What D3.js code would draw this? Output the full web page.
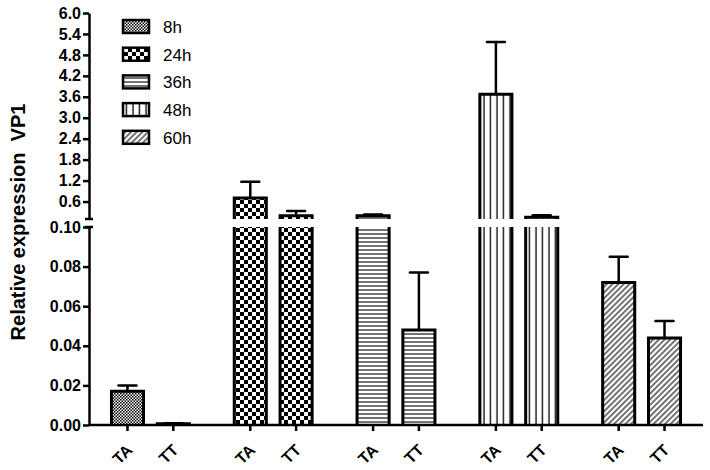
<!DOCTYPE html>
<html>
<head>
<meta charset="utf-8">
<script src="https://cdn.jsdelivr.net/npm/d3@7"></script>
<style>
  body { margin: 0; background: #fff; }
  text { font-family: Arial, "Liberation Sans", sans-serif; }
</style>
</head>
<body>
<svg id="chart" width="710" height="470"></svg>
<script>
// data
var groups = ['8h', '24h', '36h', '48h', '60h'];
var genotypes = ['TA', 'TT'];
var meanTA = [0.017, 0.70, 0.19, 3.67, 0.072];
var meanTT = [0.0006, 0.19, 0.048, 0.15, 0.044];
var errTA = [0.003, 0.47, 0.04, 1.50, 0.013];
var errTT = [0.0003, 0.14, 0.029, 0.06, 0.0085];
var lowTicks = [0, 0.02, 0.04, 0.06, 0.08, 0.10];
var highTicks = [0.6, 1.2, 1.8, 2.4, 3.0, 3.6, 4.2, 4.8, 5.4, 6.0];
var breakAt = 0.1;

var svg = d3.select('#chart');
var axisX = 89;

var x0 = d3.scaleBand().domain(groups).range([axisX, 703]).padding(0);
var x1 = d3.scaleBand().domain(genotypes).range([0, x0.bandwidth()])
    .paddingInner(0.3).paddingOuter(0.49);
var yLow = d3.scaleLinear().domain([0, breakAt]).range([425, 227]);
var yHigh = d3.scaleLinear().domain([breakAt, 6.0]).range([219, 13]);

// patterns
var defs = svg.append('defs');
function pat(id, w, h) {
    var p = defs.append('pattern').attr('id', id).attr('patternUnits', 'userSpaceOnUse')
        .attr('width', w).attr('height', h);
    p.append('rect').attr('width', w).attr('height', h).attr('fill', '#fff');
    return p;
}
var p = pat('p8h', 3, 3);
p.append('rect').attr('width', 1.5).attr('height', 1.5).attr('fill', '#000');
p.append('rect').attr('x', 1.5).attr('y', 1.5).attr('width', 1.5).attr('height', 1.5).attr('fill', '#000');
p = pat('p24h', 8, 8);
p.append('rect').attr('width', 4).attr('height', 4).attr('fill', '#000');
p.append('rect').attr('x', 4).attr('y', 4).attr('width', 4).attr('height', 4).attr('fill', '#000');
p = pat('p36h', 4, 4);
p.append('line').attr('x1', 0).attr('x2', 4).attr('y1', 2).attr('y2', 2).attr('stroke', '#000').attr('stroke-width', 1.1);
p = pat('p48h', 6.5, 4);
p.append('line').attr('x1', 3).attr('x2', 3).attr('y1', 0).attr('y2', 4).attr('stroke', '#000').attr('stroke-width', 1.3);
p = pat('p60h', 4, 4).attr('patternTransform', 'rotate(45)');
p.append('line').attr('x1', 2).attr('x2', 2).attr('y1', 0).attr('y2', 4).attr('stroke', '#000').attr('stroke-width', 1.1);

var data = [];
groups.forEach(function(g, i) {
    data.push({group: g, gt: 'TA', v: meanTA[i], e: errTA[i]});
    data.push({group: g, gt: 'TT', v: meanTT[i], e: errTT[i]});
});

function ypos(v) { return v > breakAt ? yHigh(v) : yLow(v); }

var bars = svg.append('g');
data.forEach(function(d) {
    var x = x0(d.group) + x1(d.gt);
    var w = x1.bandwidth();
    var cx = x + w / 2;
    var fill = 'url(#p' + d.group + ')';
    var g = bars.append('g');
    // error bar (upwards only)
    var top = ypos(d.v + d.e);
    g.append('line').attr('x1', cx).attr('x2', cx).attr('y1', ypos(d.v)).attr('y2', top)
        .attr('stroke', '#000').attr('stroke-width', 2.5);
    g.append('line').attr('x1', cx - 9).attr('x2', cx + 9).attr('y1', top).attr('y2', top)
        .attr('stroke', '#000').attr('stroke-width', 2.5).attr('stroke-linecap', 'round');
    var pieces = [];
    if (d.v > breakAt) {
        pieces.push({y0: yLow(0), y1: yLow(breakAt), cap: false});
        pieces.push({y0: yHigh(breakAt), y1: yHigh(d.v), cap: true});
    } else {
        pieces.push({y0: yLow(0), y1: yLow(d.v), cap: true});
    }
    pieces.forEach(function(pc) {
        g.append('rect').attr('x', x).attr('y', pc.y1).attr('width', w)
            .attr('height', Math.max(0, pc.y0 - pc.y1)).attr('fill', fill);
        var path = d3.path();
        path.moveTo(x, pc.y0);
        path.lineTo(x, pc.y1);
        if (pc.cap) { path.lineTo(x + w, pc.y1); } else { path.moveTo(x + w, pc.y1); }
        path.lineTo(x + w, pc.y0);
        g.append('path').attr('d', path.toString()).attr('fill', 'none')
            .attr('stroke', '#000').attr('stroke-width', 3);
    });
});

// axes
function styleAxis(sel) {
    sel.selectAll('.domain').attr('stroke-width', 2.5);
    sel.selectAll('.tick line').attr('stroke-width', 2.5);
    sel.selectAll('.tick text').attr('font-size', 16).attr('font-weight', 'bold')
        .attr('font-family', 'Arial, "Liberation Sans", sans-serif').attr('fill', '#000');
}
var gLow = svg.append('g').attr('transform', 'translate(' + axisX + ',0)')
    .call(d3.axisLeft(yLow).tickValues(lowTicks).tickFormat(d3.format('.2f')).tickSize(6).tickSizeOuter(0).tickPadding(2));
styleAxis(gLow);
var gHigh = svg.append('g').attr('transform', 'translate(' + axisX + ',0)')
    .call(d3.axisLeft(yHigh).tickValues(highTicks).tickFormat(d3.format('.1f')).tickSize(6).tickSizeOuter(0).tickPadding(2));
styleAxis(gHigh);

// break caps
[yHigh(breakAt), yLow(breakAt)].forEach(function(y) {
    svg.append('line').attr('x1', axisX - 4).attr('x2', axisX + 4).attr('y1', y).attr('y2', y)
        .attr('stroke', '#000').attr('stroke-width', 2.5);
});

var gx = svg.append('g').attr('transform', 'translate(0,' + yLow(0) + ')');
gx.append('line').attr('x1', axisX).attr('x2', x0.range()[1]).attr('stroke', '#000').attr('stroke-width', 2.5);
data.forEach(function(d) {
    var cx = x0(d.group) + x1(d.gt) + x1.bandwidth() / 2;
    gx.append('line').attr('x1', cx).attr('x2', cx).attr('y1', 0).attr('y2', 6)
        .attr('stroke', '#000').attr('stroke-width', 2.5);
    gx.append('text').attr('transform', 'translate(' + (cx + 6) + ',26) rotate(-45)')
        .attr('text-anchor', 'end').attr('font-size', 16).attr('font-weight', 'bold')
        .text(d.gt);
});

// y title
svg.append('text').attr('transform', 'translate(25,222) rotate(-90)')
    .attr('text-anchor', 'middle').attr('font-size', 20).attr('font-weight', 'bold')
    .attr('xml:space', 'preserve').style('white-space', 'pre')
    .text('Relative expression  VP1');

// legend
var leg = svg.append('g');
groups.forEach(function(g, i) {
    var y = 20 + i * 27.7;
    leg.append('rect').attr('x', 123).attr('y', y).attr('width', 26).attr('height', 13)
        .attr('fill', 'url(#p' + g + ')').attr('stroke', '#000').attr('stroke-width', 2.5);
    leg.append('text').attr('x', 163).attr('y', y + 13).attr('font-size', 17).text(g);
});
</script>
</body>
</html>
